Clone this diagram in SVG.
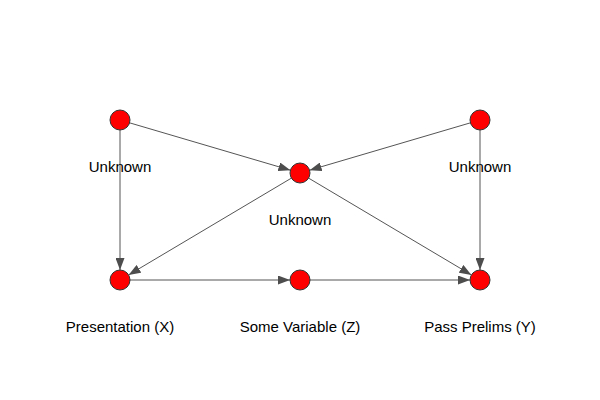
<svg xmlns="http://www.w3.org/2000/svg" width="600" height="400" viewBox="0 0 600 400">
<defs>
<marker id="arr" markerUnits="userSpaceOnUse" markerWidth="12" markerHeight="9" refX="12" refY="4.5" orient="auto">
<path d="M0,0 L12,4.5 L0,9 z" fill="#4d4d4d"/>
</marker>
<style>
.e{stroke:#555555;stroke-width:1;fill:none;marker-end:url(#arr)}
.n{fill:#ff0000;stroke:#333333;stroke-width:1}
.t{font-family:"Liberation Sans",Arial,sans-serif;font-size:15px;fill:#000000;text-anchor:middle}
</style>
</defs>
<rect width="600" height="400" fill="#ffffff"/>
<g id="edges">
<line class="e" x1="120" y1="120" x2="120" y2="270"/>
<line class="e" x1="120" y1="120" x2="290.4" y2="170.2"/>
<line class="e" x1="480" y1="120" x2="309.6" y2="170.2"/>
<line class="e" x1="480" y1="120" x2="480" y2="270"/>
<line class="e" x1="300" y1="173" x2="128.6" y2="274.9"/>
<line class="e" x1="300" y1="173" x2="471.4" y2="274.9"/>
<line class="e" x1="120" y1="280" x2="290" y2="280"/>
<line class="e" x1="300" y1="280" x2="470" y2="280"/>
</g>
<g id="u1"><circle class="n" cx="120" cy="120" r="10"/><text class="t" x="120" y="171.5">Unknown</text></g>
<g id="u2"><circle class="n" cx="300" cy="173" r="10"/><text class="t" x="300" y="224.5">Unknown</text></g>
<g id="u3"><circle class="n" cx="480" cy="120" r="10"/><text class="t" x="480" y="171.5">Unknown</text></g>
<g id="x"><circle class="n" cx="120" cy="280" r="10"/><text class="t" x="120" y="331.5">Presentation (X)</text></g>
<g id="z"><circle class="n" cx="300" cy="280" r="10"/><text class="t" x="300" y="331.5">Some Variable (Z)</text></g>
<g id="y"><circle class="n" cx="480" cy="280" r="10"/><text class="t" x="480" y="331.5">Pass Prelims (Y)</text></g>
</svg>
